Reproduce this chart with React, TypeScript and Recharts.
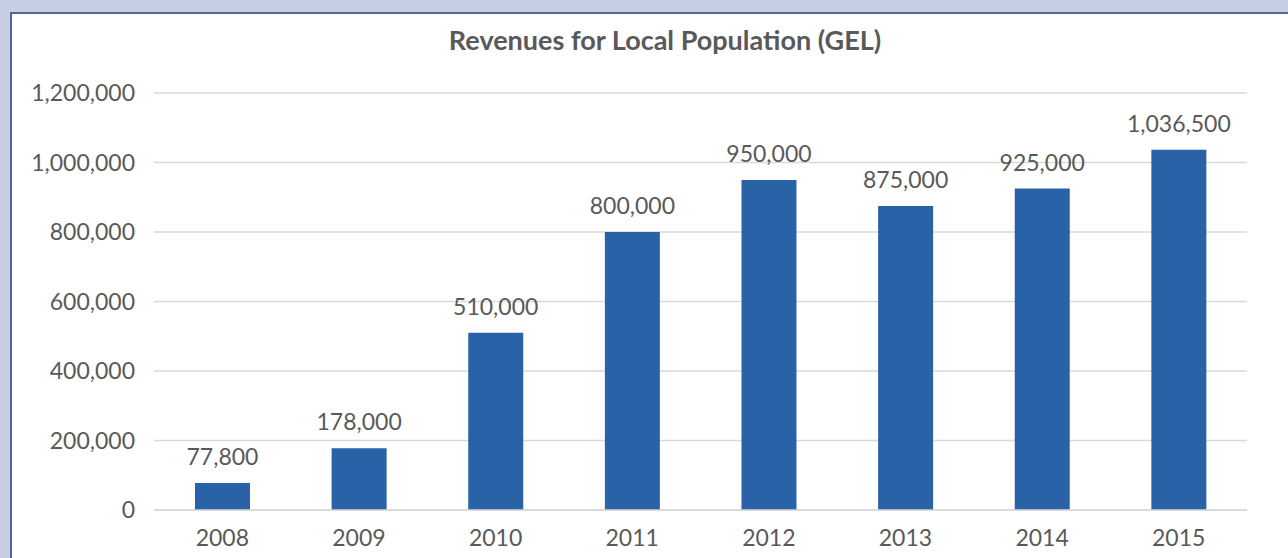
import { BarChart, Bar, CartesianGrid, XAxis, YAxis, LabelList } from 'recharts'

const years = ['2008', '2009', '2010', '2011', '2012', '2013', '2014', '2015']
const revenues = [77800, 178000, 510000, 800000, 950000, 875000, 925000, 1036500]
const yTicks = [0, 200000, 400000, 600000, 800000, 1000000, 1200000]

const data = years.map((year, i) => ({ year, value: revenues[i] }))

const fmt = (v: number) => v.toLocaleString('en-US')
const textColor = '#595959'
const font = 'Lato, "Open Sans", sans-serif'

export default function App() {
  return (
    <div style={{ position: 'fixed', left: 0, top: 0, width: 1288, height: 558, background: '#c8cde6', overflow: 'hidden' }}>
      <div style={{ position: 'absolute', left: 10, top: 12, width: 1300, height: 560, background: '#fff', borderLeft: '2px solid #4d6897', borderTop: '2px solid #4d6897' }} />
      <div style={{ position: 'absolute', left: 0, width: 1330, top: 26, lineHeight: '27px', textAlign: 'center', fontFamily: font, fontWeight: 700, fontSize: 27, color: textColor }}>
        Revenues for Local Population (GEL)
      </div>
      <div style={{ position: 'absolute', left: 0, top: 0 }}>
        <BarChart width={1288} height={558} data={data} margin={{ top: 93, right: 41, bottom: 0, left: 0 }} barCategoryGap="30%">
          <CartesianGrid vertical={false} stroke="#d9d9d9" strokeWidth={1.5} />
          <XAxis
            dataKey="year"
            height={48}
            tickLine={false}
            axisLine={{ stroke: '#d9d9d9', strokeWidth: 1.5 }}
            tickMargin={14}
            tick={{ fill: textColor, fontSize: 23, fontFamily: font }}
          />
          <YAxis
            width={154}
            domain={[0, 1200000]}
            ticks={yTicks}
            tickFormatter={fmt}
            tickLine={false}
            axisLine={false}
            tickMargin={13}
            tick={{ fill: textColor, fontSize: 23, fontFamily: font }}
          />
          <Bar dataKey="value" fill="#2962a6" isAnimationActive={false}>
            <LabelList dataKey="value" position="top" offset={18} formatter={(v: number) => fmt(v)} fill={textColor} fontSize={23} fontFamily={font} />
          </Bar>
        </BarChart>
      </div>
    </div>
  )
}
